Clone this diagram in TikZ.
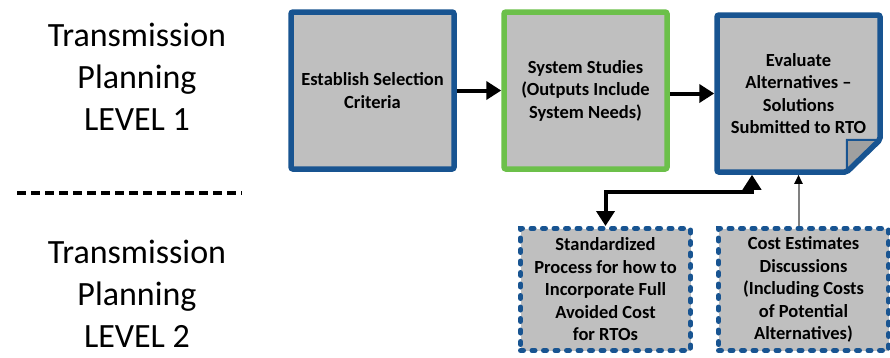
\documentclass[tikz,border=0pt]{standalone}
\usepackage{fontspec}
\setmainfont{Carlito}
\usetikzlibrary{arrows.meta}

\definecolor{boxblue}{RGB}{24,84,145}
\definecolor{boxgreen}{RGB}{108,192,74}
\definecolor{boxgray}{RGB}{191,191,191}
\definecolor{foldgray}{RGB}{160,160,160}

\begin{document}
\begin{tikzpicture}[x=1pt,y=-1pt,
	level/.style={align=center,inner sep=0pt,font=\fontsize{34}{42}\selectfont},
	stage/.style={draw=boxblue,line width=5.5pt,fill=boxgray,rounded corners=2pt,
		minimum width=163pt,minimum height=157pt,inner sep=0pt,align=center,
		font=\fontsize{18.5}{22.5}\selectfont\bfseries},
	input/.style={draw=boxblue,line width=5pt,fill=boxgray,dash pattern=on 3pt off 8.5pt,
		line cap=round,minimum width=170pt,minimum height=122pt,inner sep=0pt,align=center,
		font=\fontsize{18.5}{22.5}\selectfont\bfseries},
	flow/.style={line width=4pt,-{Triangle[length=15pt,width=18pt]}},
	both/.style={line width=4pt,{Triangle[length=15pt,width=18pt]}-{Triangle[length=15pt,width=18pt]}},
	hint/.style={line width=2pt,draw=gray,-{Triangle[length=9pt,width=8pt,color=black]}}]
	\useasboundingbox (0,0) rectangle (890,357);

	% level labels
	\node[level] (lvlone) at (137,77) {Transmission\\Planning\\LEVEL 1};
	\node[level] (lvltwo) at (137,294) {Transmission\\Planning\\LEVEL 2};
	\coordinate (sepl) at (17,193);
	\coordinate (sepr) at (242,193);
	\draw[line width=4pt,dash pattern=on 9pt off 5pt] (sepl) -- (sepr);

	% level 1
	\node[stage] (criteria) at (372.5,90.5) {Establish Selection\\Criteria};
	\node[stage,draw=boxgreen] (studies) at (585.5,90.5) {System Studies\\(Outputs Include\\System Needs)};
	\node[stage,draw=none,fill=none,outer sep=2.75pt] (evaluate) at (798.5,93.5) {Evaluate\\Alternatives --\\Solutions\\Submitted to RTO};
	\fill[boxgray] ([shift={(2.75,2.75)}]evaluate.north west) -- ([shift={(-2.75,2.75)}]evaluate.north east)
		-- ([shift={(-2.75,-35)}]evaluate.south east) -- ([shift={(-36,-2.75)}]evaluate.south east)
		-- ([shift={(2.75,-2.75)}]evaluate.south west) -- cycle;
	\filldraw[fill=foldgray,draw=boxblue,line width=2pt] ([shift={(-36,-2.75)}]evaluate.south east)
		-- ([shift={(-36,-35)}]evaluate.south east) -- ([shift={(-2.75,-35)}]evaluate.south east) -- cycle;
	\draw[boxblue,line width=5.5pt,rounded corners=2pt] ([shift={(2.75,2.75)}]evaluate.north west)
		-- ([shift={(-2.75,2.75)}]evaluate.north east) -- ([shift={(-2.75,-35)}]evaluate.south east)
		-- ([shift={(-36,-2.75)}]evaluate.south east) -- ([shift={(2.75,-2.75)}]evaluate.south west) -- cycle;
	\node[align=center,font=\fontsize{18.5}{22.5}\selectfont\bfseries] at (evaluate) {Evaluate\\Alternatives --\\Solutions\\Submitted to RTO};

	% level 2
	\node[input] (standard) at (605.5,289.5) {Standardized\\Process for how to\\Incorporate Full\\Avoided Cost\\for RTOs};
	\node[input] (costest) at (803.5,289.5) {Cost Estimates\\Discussions\\(Including Costs\\of Potential\\Alternatives)};

	\draw[flow] (criteria) -- (studies);
	\draw[flow] (studies.east |- evaluate.west) -- (evaluate.west);
	\draw[both] ([xshift=-46.5pt]evaluate.south) -- ++(0,17) -| (standard.north);
	\draw[hint] (costest.north -| evaluate.south) -- (evaluate.south);
\end{tikzpicture}
\end{document}
